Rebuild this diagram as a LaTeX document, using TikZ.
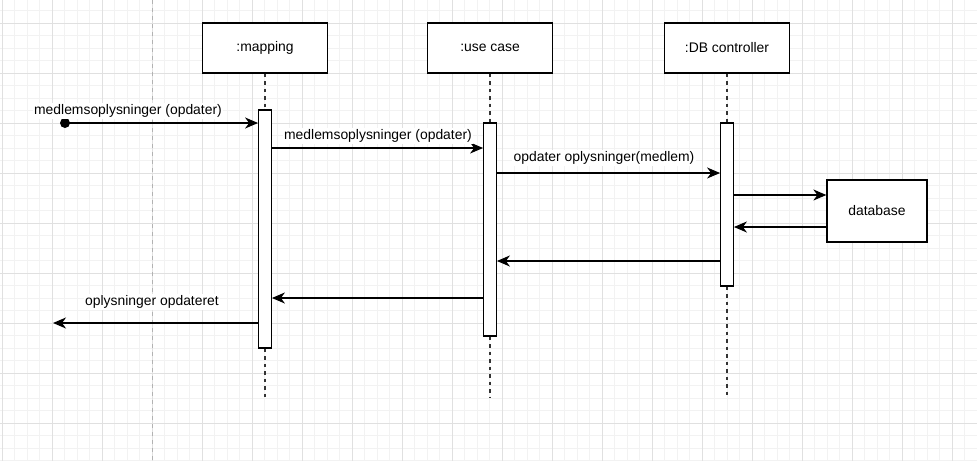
\documentclass[tikz,border=0pt]{standalone}
\usepackage{fontspec}
\setmainfont{Liberation Sans}
\usetikzlibrary{arrows.meta,calc}
\begin{document}
\begin{tikzpicture}[x=1pt,y=-1pt,
  every node/.style={font=\fontsize{13.9}{16}\selectfont},
  head/.style={draw, line width=1.3pt, fill=white, minimum width=125pt, minimum height=50pt, inner sep=0pt},
  bar/.style={draw, line width=1.3pt, fill=white, minimum width=12.5pt, inner sep=0pt},
  life/.style={draw=black!80, line width=1.4pt, dash pattern=on 3.75pt off 3.75pt},
  msg/.style={line width=1.3pt, -{Stealth[length=13pt,width=11pt,inset=4pt]}},
  lbl/.style={fill=white, inner sep=1.5pt},
  minorgrid/.style={draw=black!5, line width=1pt},
  majorgrid/.style={draw=black!12, line width=1pt},
  pagebreak/.style={draw=black!30, line width=1pt, dash pattern=on 4pt off 4pt}]
\useasboundingbox (0,0) rectangle (977,461);
\fill[white] (0,0) rectangle (977,461);
% grid
\foreach \i in {0,...,78} \draw[minorgrid] ({2+12.5*\i},0) -- ({2+12.5*\i},461);
\foreach \j in {0,...,36} \draw[minorgrid] (0,{10.5+12.5*\j}) -- (977,{10.5+12.5*\j});
\foreach \i in {0,...,19} \draw[majorgrid] ({2+50*\i},0) -- ({2+50*\i},461);
\foreach \j in {0,...,8} \draw[majorgrid] (0,{23+50*\j}) -- (977,{23+50*\j});
\draw[pagebreak] (152,0) -- (152,461);

% heads
\node[head] (map) at (265,48) {:mapping};
\node[head] (uc) at (490,48) {:use case};
\node[head] (db) at (727,48) {:DB controller};
\node[draw, line width=1.3pt, fill=white, minimum width=100pt, minimum height=62pt, inner sep=0pt] (database) at (877,211) {database};

% lifeline ends
\coordinate (mapend) at (265,398);
\coordinate (ucend) at (490,398);
\coordinate (dbend) at (727,398);

% activation bars
\node[bar, minimum height=238pt] (mapbar) at (265,229) {};
\node[bar, minimum height=213pt] (ucbar) at (490,229.5) {};
\node[bar, minimum height=163pt] (dbbar) at (727,204.5) {};

% lifelines
\draw[life] (map.south) -- (mapbar.north);
\draw[life] (mapbar.south) -- (mapend);
\draw[life] (uc.south) -- (ucbar.north);
\draw[life] (ucbar.south) -- (ucend);
\draw[life] (db.south) -- (dbbar.north);
\draw[life] (dbbar.south) -- (dbend);

% messages
\coordinate (start) at (65,123);
\coordinate (lostend) at (53,323);
\fill (start) circle (5pt);
\draw[msg] (start) -- (mapbar.west |- 0,123);
\node[lbl] (l1) at (128,111) {medlemsoplysninger (opdater)};
\draw[msg] (mapbar.east |- 0,148) -- (ucbar.west |- 0,148);
\node[lbl] (l2) at (378,136) {medlemsoplysninger (opdater)};
\draw[msg] (ucbar.east |- 0,173) -- (dbbar.west |- 0,173);
\node[lbl] (l3) at (604,158) {opdater oplysninger(medlem)};
\draw[msg] (dbbar.east |- 0,195) -- (database.west |- 0,195);
\draw[msg] (database.west |- 0,227) -- (dbbar.east |- 0,227);
\draw[msg] (dbbar.west |- 0,261) -- (ucbar.east |- 0,261);
\draw[msg] (ucbar.west |- 0,298) -- (mapbar.east |- 0,298);
\draw[msg] (mapbar.west |- 0,323) -- (lostend);
\node[lbl] (l4) at (152,302) {oplysninger opdateret};
\end{tikzpicture}
\end{document}
